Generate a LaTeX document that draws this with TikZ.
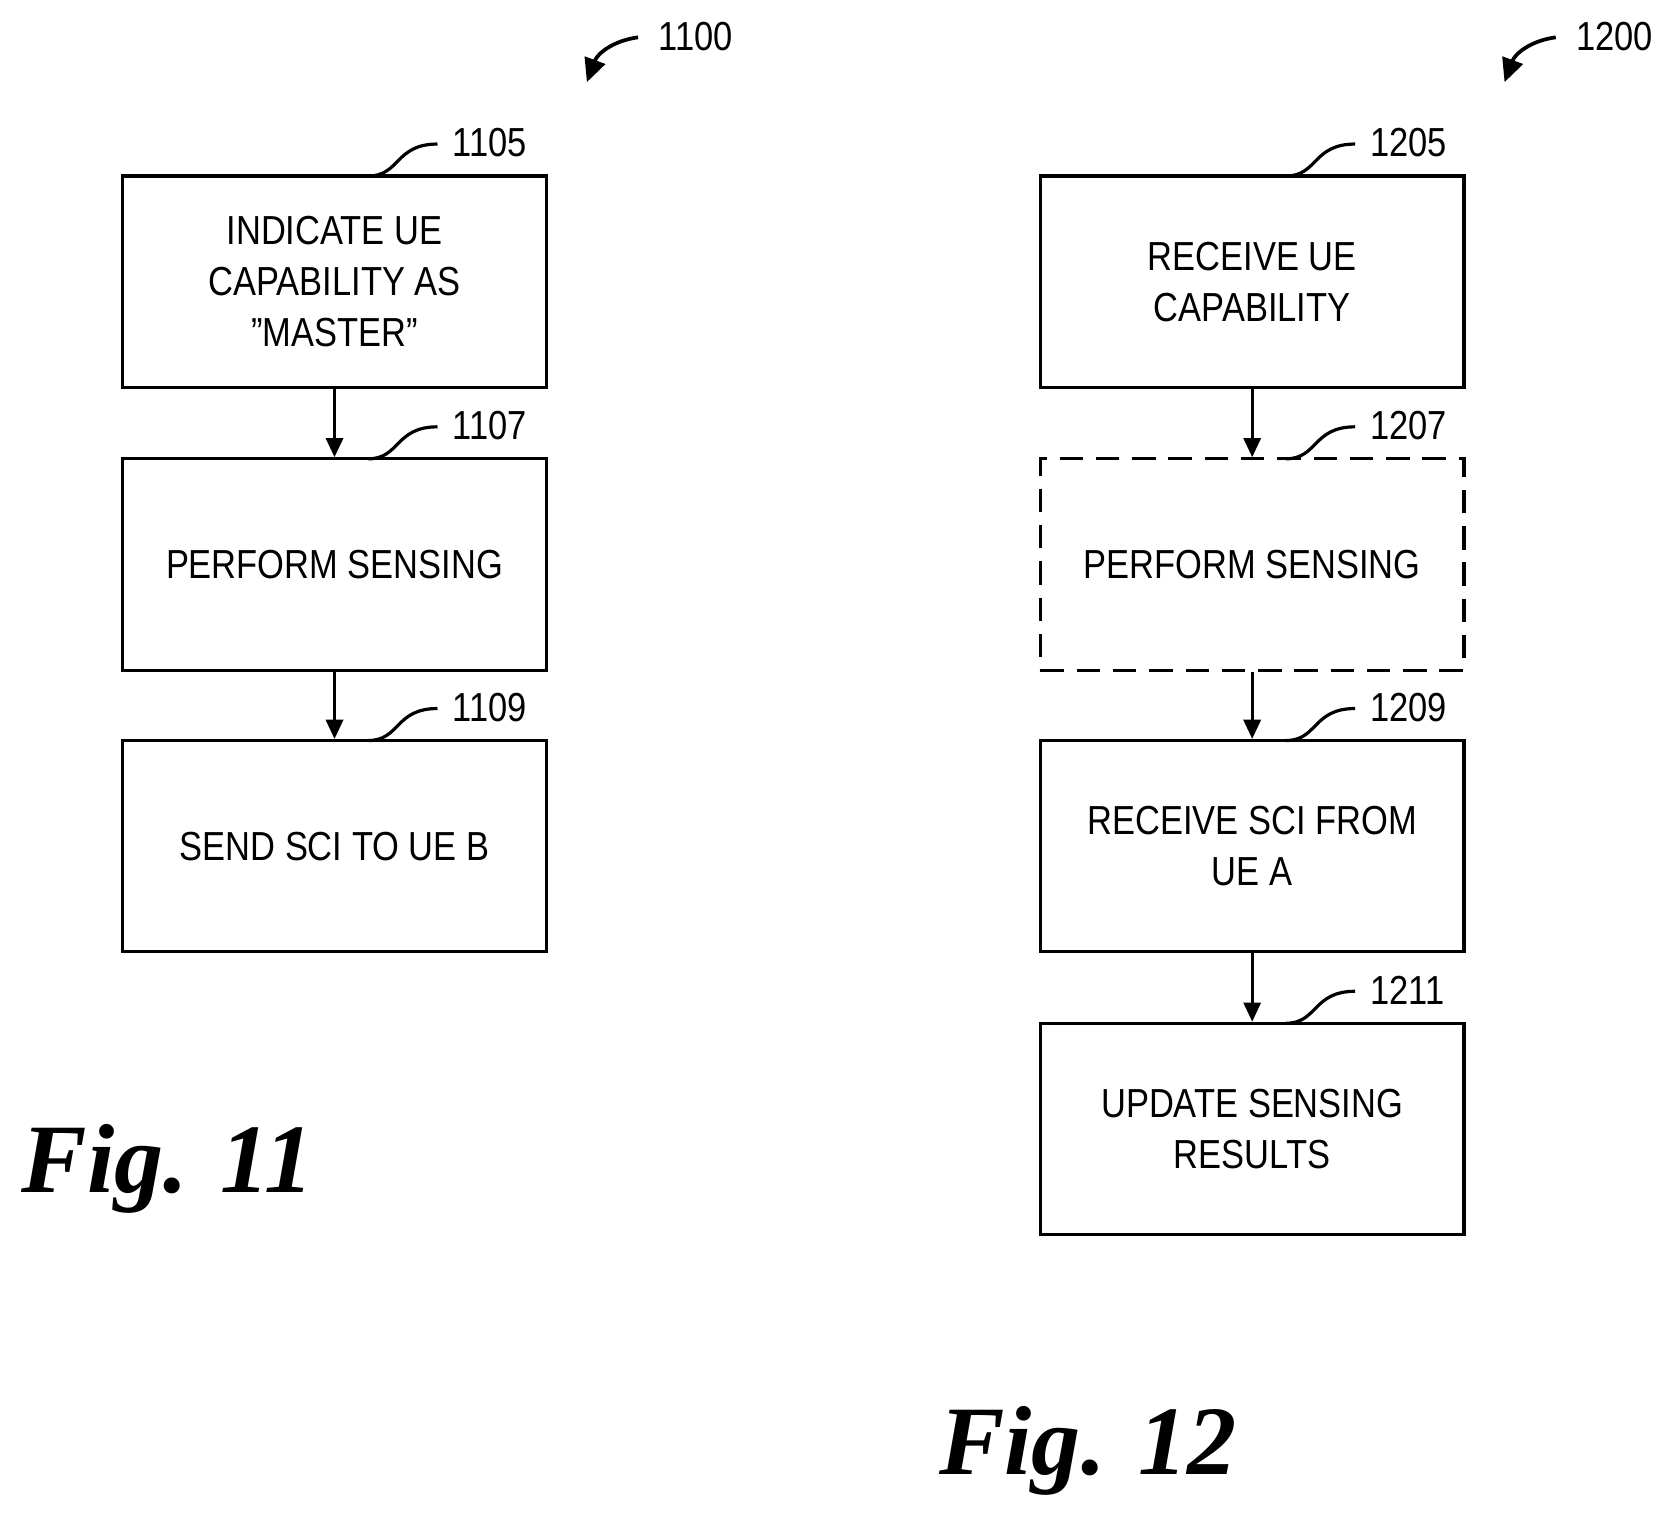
\documentclass[tikz,border=0pt]{standalone}
\usepackage{fontspec}
\setmainfont{Liberation Sans}[FakeStretch=0.85]
\newfontfamily\figfont{Liberation Serif}
\usetikzlibrary{arrows.meta}
\begin{document}
\begin{tikzpicture}[x=1pt,y=-1pt,
  box/.style={draw,line width=3pt,minimum width=397pt,minimum height=198pt,align=center,font=\fontsize{38}{48}\selectfont,inner sep=0pt},
  arr/.style={line width=3pt,-{Triangle[length=18pt,width=16pt]}},
  lead/.style={line width=3pt},
  lbl/.style={anchor=west,font=\fontsize{38}{40}\selectfont,inner sep=0pt},
  fig/.style={font=\figfont\bfseries\itshape\fontsize{92}{92}\selectfont,anchor=west,inner sep=0pt}]
\useasboundingbox (0,0) rectangle (1566,1423);
\node[box] (a1) at (313.5,264) {INDICATE UE\\CAPABILITY AS\\"MASTER"};
\node[box] (a2) at (313.5,529) {PERFORM SENSING};
\node[box] (a3) at (313.5,793) {SEND SCI TO UE B};
\node[box] (b1) at (1173.5,264) {RECEIVE UE\\CAPABILITY};
\node[box,dash pattern=on 22pt off 12pt] (b2) at (1173.5,529) {PERFORM SENSING};
\node[box] (b3) at (1173.5,793) {RECEIVE SCI FROM\\UE A};
\node[box] (b4) at (1173.5,1058) {UPDATE SENSING\\RESULTS};
\draw[arr] (a1.south) -- (a2.north);
\draw[arr] (a2.south) -- (a3.north);
\draw[arr] (b1.south) -- (b2.north);
\draw[arr] (b2.south) -- (b3.north);
\draw[arr] (b3.south) -- (b4.north);
\foreach \n/\x/\y/\t in {a1/345/165/1105,a2/345/430/1107,a3/345/694/1109,b1/1205/165/1205,b2/1205/430/1207,b3/1205/694/1209,b4/1205/959/1211}{
  \coordinate (s\t) at (\x,\y);
  \coordinate (e\t) at (\x+65,\y-30);
  \draw[lead] (s\t) .. controls (\x+30,\y) and (\x+25,\y-30) .. (e\t);
  \node[lbl] (l\t) at (\x+79,\y-31) {\t};
}
\coordinate (t1) at (598,35); \coordinate (h1) at (550,77);
\draw[line width=3.5pt,-{Triangle[length=22pt,width=20pt]}] (t1) .. controls (575,38) and (560,50) .. (h1);
\node[lbl] (n1100) at (617,34) {1100};
\coordinate (t2) at (1458,35); \coordinate (h2) at (1410,77);
\draw[line width=3.5pt,-{Triangle[length=22pt,width=20pt]}] (t2) .. controls (1435,38) and (1420,50) .. (h2);
\node[lbl] (n1200) at (1477,34) {1200};
\node[fig] (f11) at (20,1095) {Fig. 11};
\node[fig] (f12) at (880,1360) {Fig. 12};
\end{tikzpicture}
\end{document}
